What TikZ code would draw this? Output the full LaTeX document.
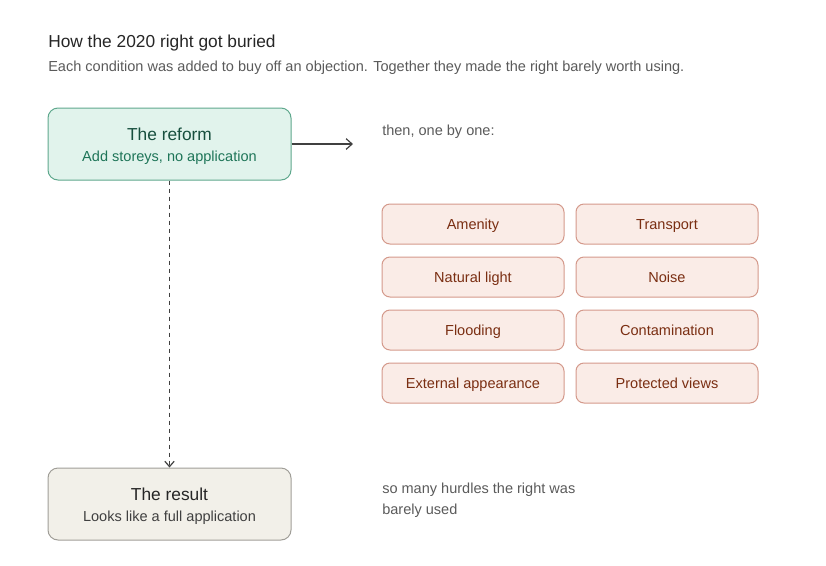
\documentclass[tikz,border=0pt]{standalone}
\usepackage{fontspec}
\setmainfont{Liberation Sans}
\usetikzlibrary{arrows.meta}
\definecolor{greenfill}{HTML}{E1F3EC}
\definecolor{greenline}{HTML}{5FA88D}
\definecolor{greentitle}{HTML}{174F3E}
\definecolor{greentext}{HTML}{1E7558}
\definecolor{redfill}{HTML}{FAECE7}
\definecolor{redline}{HTML}{D4998B}
\definecolor{redtext}{HTML}{7A2E12}
\definecolor{greyfill}{HTML}{F2F0E9}
\definecolor{greyline}{HTML}{A09E98}
\definecolor{bodygrey}{HTML}{5A5A5A}
\begin{document}
\begin{tikzpicture}[x=0.75pt,y=-0.75pt,
  bigbox/.style={draw, line width=0.75pt, rounded corners=7.5pt, minimum width=182.25pt, minimum height=54pt, inner sep=0pt, align=center},
  cond/.style={draw=redline, fill=redfill, line width=0.75pt, rounded corners=6pt, minimum width=136.5pt, minimum height=30pt, inner sep=0pt, text height=10pt, text depth=1.3pt, text=redtext, font=\fontsize{10.9}{12}\selectfont},
  note/.style={anchor=west, text=bodygrey, font=\fontsize{10.9}{12}\selectfont, inner sep=0pt, align=left}]
\useasboundingbox (0,0) rectangle (826,565);
\node[anchor=west, inner sep=0pt, font=\fontsize{13}{15}\selectfont, text=black!85] (title) at (48,43) {How the 2020 right got buried};
\node[anchor=west, inner sep=0pt, font=\fontsize{10.9}{12}\selectfont, text=bodygrey] (sub) at (48,68) {Each condition was added to buy off an objection. Together they made the right barely worth using.};
\node[bigbox, draw=greenline, fill=greenfill] (reform) at (169.5,144) {};
\node[text=greentitle, font=\fontsize{13}{15}\selectfont, inner sep=0pt] (reformt) at (169.5,134.5) {The reform};
\node[text=greentext, font=\fontsize{10.9}{12}\selectfont, inner sep=0pt] (reforms) at (169.5,157.5) {Add storeys, no application};
\node[bigbox, draw=greyline, fill=greyfill] (result) at (169.5,504) {};
\node[text=black!85, font=\fontsize{13}{15}\selectfont, inner sep=0pt] (resultt) at (169.5,494.5) {The result};
\node[text=black!75, font=\fontsize{10.9}{12}\selectfont, inner sep=0pt] (results) at (169.5,517.5) {Looks like a full application};
\coordinate (arrend) at (353,144);
\draw[-{Straight Barb[length=4.5pt,width=8pt]}, line width=0.9pt, black!75] (reform.east) -- (arrend);
\draw[-{Straight Barb[length=4pt,width=7pt]}, line width=0.9pt, black!75, dash pattern=on 3pt off 3pt] (reform.south) -- (result.north);
\node[note] (then) at (382,131.5) {then, one by one:};
\node[cond] (c1) at (473,224) {Amenity};
\node[cond] (c2) at (667,224) {Transport};
\node[cond] (c3) at (473,277) {Natural light};
\node[cond] (c4) at (667,277) {Noise};
\node[cond] (c5) at (473,330) {Flooding};
\node[cond] (c6) at (667,330) {Contamination};
\node[cond] (c7) at (473,383) {External appearance};
\node[cond] (c8) at (667,383) {Protected views};
\node[note] (so1) at (382,489.5) {so many hurdles the right was};
\node[note] (so2) at (382,510.5) {barely used};
\end{tikzpicture}
\end{document}
